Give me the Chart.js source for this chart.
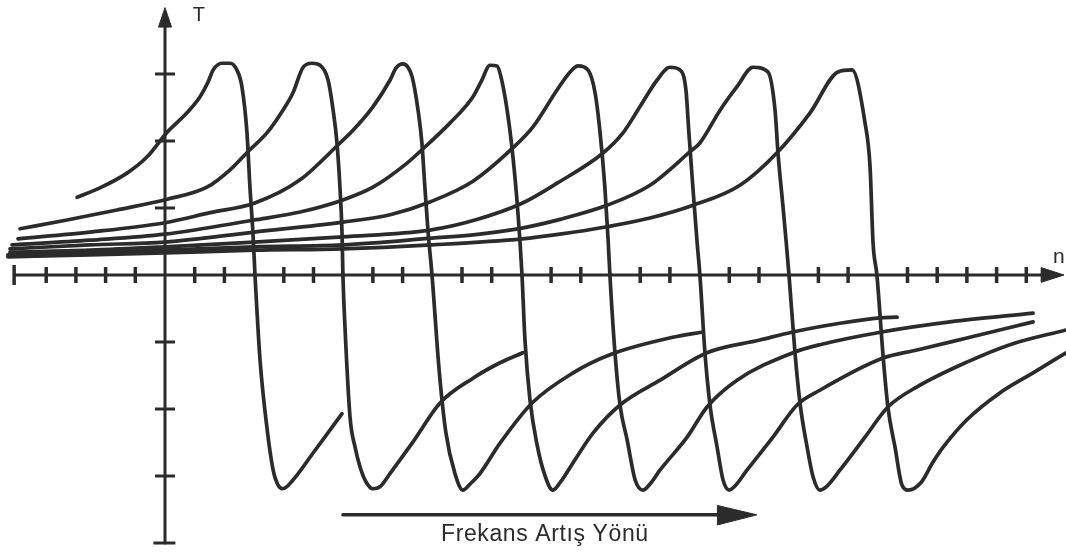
<!DOCTYPE html>
<html lang="tr">
<head>
  <meta charset="UTF-8" />
  <title>Moment - Hız Eğrileri</title>
  <script src="https://cdn.jsdelivr.net/npm/chart.js"></script>
  <style>
    html, body {
      margin: 0;
      padding: 0;
      background: #fff;
    }
    #wrap {
      width: 1066px;
      height: 553px;
      position: relative;
    }
  </style>
</head>
<body>
  <div id="wrap"><canvas id="tnChart"></canvas></div>

  <script>
    // n in tick units (one tick on the n axis), T in tick units (one tick on the T axis)
    const curve1 = [[-2.96,1.16],[-2.19,1.30],[-1.28,1.52],[-0.61,1.76],[0.07,2.13],[0.74,2.42],[1.18,2.66],[1.45,2.88],[1.62,3.06],[1.92,3.16],[2.19,3.16],[2.42,3.06],[2.59,2.81],[2.76,2.12],[2.86,1.31],[2.96,0.63],[3.03,0],[3.20,-1.27],[3.43,-2.27],[3.64,-2.91],[3.80,-3.13],[3.97,-3.19],[4.31,-3.06],[4.98,-2.66],[5.96,-2.07]];
    const curve2 = [[-4.88,0.69],[-3.30,0.82],[-1.62,0.97],[0.07,1.13],[1.41,1.31],[2.19,1.57],[2.79,1.84],[3.43,2.12],[3.97,2.46],[4.31,2.72],[4.65,3.10],[4.95,3.16],[5.22,3.13],[5.49,2.91],[5.66,2.46],[5.79,1.97],[5.89,1.31],[5.96,0.63],[5.99,0],[6.06,-0.78],[6.23,-2.12],[6.40,-2.57],[6.57,-2.87],[6.77,-3.09],[7.00,-3.19],[7.24,-3.16],[7.58,-2.96],[8.35,-2.49],[9.26,-1.91],[10.37,-1.54],[11.28,-1.31],[12.05,-1.16]];
    const curve3 = [[-4.95,0.54],[-2.53,0.64],[0,0.78],[1.52,0.93],[3.0,1.07],[4.55,1.42],[5.89,1.97],[6.33,2.16],[7.0,2.51],[7.58,2.91],[7.78,3.09],[8.01,3.15],[8.18,3.10],[8.32,2.96],[8.52,2.46],[8.65,1.97],[8.75,1.31],[8.86,0.63],[8.99,0],[9.23,-1.42],[9.46,-2.36],[9.76,-2.96],[10.03,-3.21],[10.27,-3.12],[10.61,-2.96],[11.28,-2.51],[12.36,-1.91],[13.74,-1.46],[14.98,-1.19],[17.10,-0.93],[18.11,-0.85]];
    const curve4 = [[-5.15,0.45],[-2.53,0.52],[0,0.61],[3.0,0.82],[4.55,0.94],[5.99,1.12],[7.0,1.31],[8.15,1.67],[8.75,1.91],[9.60,2.27],[10.37,2.66],[10.67,2.91],[10.94,3.13],[11.18,3.12],[11.31,2.96],[11.52,2.46],[11.68,1.91],[11.85,1.12],[11.95,0.52],[12.02,0],[12.12,-0.97],[12.29,-1.87],[12.53,-2.54],[12.79,-2.99],[13.06,-3.21],[13.30,-3.10],[13.80,-2.76],[14.41,-2.36],[15.32,-1.94],[16.67,-1.57],[18.25,-1.16],[20.03,-0.97],[21.14,-0.85],[22.73,-0.72],[24.07,-0.64],[24.65,-0.63]];
    const curve5 = [[-5.22,0.39],[-2.53,0.45],[0,0.49],[3.0,0.64],[5.99,0.79],[7.58,0.90],[8.92,1.09],[10.37,1.40],[11.72,1.90],[12.39,2.21],[13.20,2.76],[13.64,3.03],[13.91,3.12],[14.24,3.06],[14.48,2.72],[14.65,2.12],[14.81,1.31],[14.92,0.52],[14.98,0],[15.15,-1.16],[15.32,-1.94],[15.56,-2.46],[15.83,-3.06],[16.09,-3.21],[16.33,-3.12],[16.67,-2.91],[17.58,-2.42],[18.25,-1.97],[19.26,-1.57],[21.14,-1.16],[22.05,-1.04],[24.14,-0.85],[26.43,-0.70],[29.23,-0.57]];
    const curve6 = [[-5.22,0.34],[-2.53,0.37],[0,0.42],[3.0,0.49],[5.99,0.57],[8.92,0.67],[10.44,0.82],[12.02,1.07],[13.20,1.37],[14.75,1.82],[15.42,2.12],[15.99,2.51],[16.57,2.91],[17.00,3.10],[17.34,3.06],[17.54,2.76],[17.64,2.12],[17.78,1.27],[17.91,0.52],[18.01,0],[18.18,-1.16],[18.35,-1.94],[18.59,-2.57],[18.79,-3.06],[19.00,-3.21],[19.19,-3.15],[19.60,-2.91],[20.47,-2.42],[21.28,-1.94],[22.05,-1.72],[24.18,-1.24],[25.32,-1.12],[27.0,-0.94],[29.23,-0.70]];
    const curve7 = [[-5.29,0.30],[-2.53,0.33],[0,0.37],[3.0,0.42],[5.99,0.45],[8.99,0.55],[10.60,0.61],[12.02,0.70],[13.30,0.83],[14.88,1.04],[16.33,1.34],[17.68,1.84],[18.01,1.97],[18.69,2.46],[19.26,2.81],[19.80,3.10],[20.30,3.03],[20.54,2.46],[20.64,1.82],[20.81,1.01],[20.91,0.52],[21.01,0],[21.21,-1.15],[21.38,-1.91],[21.62,-2.57],[21.82,-3.01],[22.05,-3.21],[22.29,-3.15],[22.73,-2.91],[23.57,-2.42],[24.34,-1.97],[25.32,-1.67],[27.0,-1.30],[28.45,-1.04],[30.34,-0.82]];
    const curve8 = [[-5.29,0.27],[-2.53,0.30],[0,0.33],[3.0,0.37],[5.99,0.39],[8.99,0.45],[12.02,0.54],[13.30,0.61],[14.88,0.72],[16.33,0.85],[17.78,1.04],[19.36,1.34],[20.64,1.84],[21.72,2.42],[22.66,3.03],[23.13,3.06],[23.57,2.27],[23.74,1.61],[23.84,0.48],[23.97,0],[24.18,-1.22],[24.34,-1.97],[24.58,-2.57],[24.81,-3.13],[25.02,-3.21],[25.45,-3.10],[25.85,-2.80],[26.20,-2.57],[27.0,-2.16],[28.11,-1.76],[29.23,-1.46],[30.34,-1.16]];
    const curves = [curve1, curve2, curve3, curve4, curve5, curve6, curve7, curve8];

    // tick marks along the axes (no tick marks where a curve crosses the n axis)
    const nTicks = [-4,-3,-2,-1,1,2,4,5,7,8,10,11,13,14,16,17,19,20,22,23,25,26,27,28,29];
    const tTicks = [3,2,1,-1,-2,-3];

    const ink = '#2b2b2b';
    const font = '"Liberation Sans", Arial, sans-serif';

    const pts = arr => arr.map(([x, y]) => ({ x, y }));

    function stroke(arr, width, smooth) {
      return {
        data: pts(arr),
        showLine: true,
        borderColor: ink,
        borderWidth: width,
        pointRadius: 0,
        fill: false,
        tension: 0,
        cubicInterpolationMode: smooth ? 'monotone' : 'default',
        borderCapStyle: 'round',
        borderJoinStyle: 'round'
      };
    }

    function head(arr) {
      return {
        data: pts(arr),
        showLine: true,
        borderColor: ink,
        borderWidth: 1,
        backgroundColor: ink,
        pointRadius: 0,
        tension: 0,
        fill: 'shape'
      };
    }

    const datasets = [];

    // axes
    datasets.push(stroke([[-5.08, 0], [29.6, 0]], 3));
    datasets.push(head([[29.5, 0.11], [30.27, 0], [29.5, -0.11], [29.5, 0.11]]));
    datasets.push(stroke([[0, 3.75], [0, -4.0]], 3));
    datasets.push(head([[-0.22, 3.70], [0, 3.99], [0.22, 3.70], [-0.22, 3.70]]));

    datasets.push({
      data: nTicks.map(v => ({ x: v, y: 0 })),
      pointStyle: 'line',
      rotation: 90,
      pointRadius: 8,
      pointBorderWidth: 3.5,
      pointBorderColor: ink
    });
    datasets.push({
      data: [{ x: -5.08, y: 0 }],
      pointStyle: 'line',
      rotation: 90,
      pointRadius: 10,
      pointBorderWidth: 3.5,
      pointBorderColor: ink
    });
    datasets.push({
      data: tTicks.map(v => ({ x: 0, y: v })),
      pointStyle: 'line',
      rotation: 0,
      pointRadius: 10,
      pointBorderWidth: 3,
      pointBorderColor: ink
    });
    datasets.push({
      data: [{ x: -0.02, y: -4.0 }],
      pointStyle: 'line',
      rotation: 0,
      pointRadius: 11,
      pointBorderWidth: 3,
      pointBorderColor: ink
    });

    // torque-speed curves
    curves.forEach(c => datasets.push(stroke(c, 3.7, true)));

    // frequency direction arrow
    datasets.push(stroke([[5.99, -3.58], [18.7, -3.58]], 3.5));
    datasets.push(head([[18.6, -3.44], [19.93, -3.58], [18.6, -3.73], [18.6, -3.44]]));

    const labelsPlugin = {
      id: 'axisLabels',
      afterDatasetsDraw(chart) {
        const { ctx, scales: { x, y } } = chart;
        ctx.save();
        ctx.fillStyle = ink;
        ctx.textAlign = 'center';
        ctx.textBaseline = 'alphabetic';
        ctx.font = '20px ' + font;
        ctx.fillText('T', x.getPixelForValue(1.14), y.getPixelForValue(3.79));
        ctx.font = '21px ' + font;
        ctx.fillText('n', x.getPixelForValue(30.10), y.getPixelForValue(0.18));
        ctx.font = '23px ' + font;
        ctx.letterSpacing = '0.6px';
        ctx.fillText('Frekans Artış Yönü', x.getPixelForValue(12.79), y.getPixelForValue(-3.97));
        ctx.restore();
      }
    };

    new Chart(document.getElementById('tnChart'), {
      type: 'scatter',
      data: { datasets },
      options: {
        responsive: true,
        maintainAspectRatio: false,
        animation: false,
        events: [],
        layout: { padding: 0, autoPadding: false },
        plugins: {
          legend: { display: false },
          tooltip: { enabled: false }
        },
        scales: {
          x: { type: 'linear', display: false, min: -5.556, max: 30.337 },
          y: { type: 'linear', display: false, min: -4.149, max: 4.104 }
        }
      },
      plugins: [labelsPlugin]
    });
  </script>
</body>
</html>
